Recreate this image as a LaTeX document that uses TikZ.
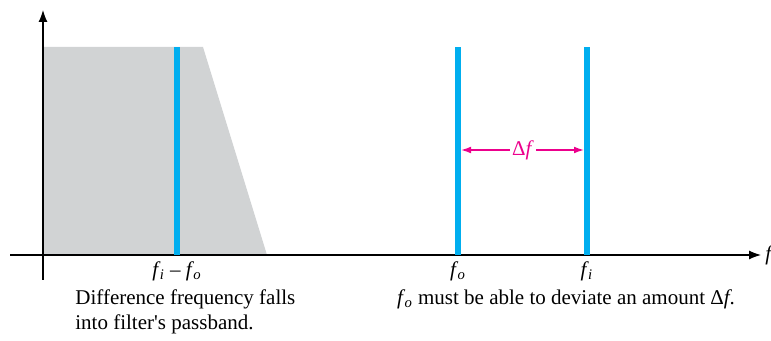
\documentclass[tikz,border=0pt]{standalone}
\usepackage{fontspec}
\setmainfont{Liberation Serif}
\usetikzlibrary{arrows.meta}

\definecolor{tone}{HTML}{00AEEF}
\definecolor{devcol}{HTML}{EC008C}
\definecolor{passband}{HTML}{D1D3D4}
\newcommand{\fsym}[1]{\textit{f}\kern-0.4pt\textsubscript{\textit{#1}}}

\tikzset{
  axis/.style={line width=0.6pt,-{Latex[length=6pt,width=4.5pt]}},
  toneline/.style={tone,line width=2.6pt},
  devarrow/.style={devcol,line width=0.7pt,-{Latex[length=5pt,width=3.4pt]}},
  freqlabel/.style={anchor=north,inner sep=1pt},
}

\begin{document}
\begin{tikzpicture}[>=Latex,x=0.5pt,y=-0.5pt,font=\fontsize{10.5}{12.5}\selectfont]
\useasboundingbox (0,0) rectangle (771,341);
% axes: y is flipped, so coordinates read like pixels of the page
\coordinate (O) at (43,255);
\coordinate (Atop) at (43,10);
\coordinate (Abot) at (43,280);
\coordinate (Aleft) at (10,255);
\coordinate (Aright) at (761,255);
% filter passband
\coordinate (P1) at (44,47);
\coordinate (P2) at (203,47);
\coordinate (P3) at (267,255);
\coordinate (P4) at (44,255);
\fill[passband] (P1)--(P2)--(P3)--(P4)--cycle;
\draw[axis] (Abot)--(Atop);
\draw[axis] (Aleft)--(Aright);
\node[anchor=west,inner sep=2pt] (f) at (Aright) {\textit{f}};
% spectral lines
\coordinate (D) at (177,255);
\coordinate (Dtop) at (177,47);
\coordinate (Fo) at (458,255);
\coordinate (Fotop) at (458,47);
\coordinate (Fi) at (587,255);
\coordinate (Fitop) at (587,47);
\draw[toneline] (D)--(Dtop);
\draw[toneline] (Fo)--(Fotop);
\draw[toneline] (Fi)--(Fitop);
\node[freqlabel] (dlab) at (177,259) {\fsym{i} – \fsym{o}};
\node[freqlabel] (folab) at (458,259) {\fsym{o}};
\node[freqlabel] (filab) at (587,259) {\fsym{i}};
% deviation
\node[devcol,inner sep=1pt] (dev) at (523,150) {Δ\textit{f}};
\coordinate (Fomid) at (461,150);
\coordinate (Fimid) at (584,150);
\draw[devarrow] (dev.west)--(Fomid);
\draw[devarrow] (dev.east)--(Fimid);
% captions
\node[anchor=north west,align=left,inner sep=0pt] (cap1) at (75,289)
  {Difference frequency falls\\into filter\textquotesingle s passband.};
\node[anchor=north,inner sep=0pt] (cap2) at (566,289)
  {\fsym{o} must be able to deviate an amount Δ\textit{f}.};
\end{tikzpicture}
\end{document}
